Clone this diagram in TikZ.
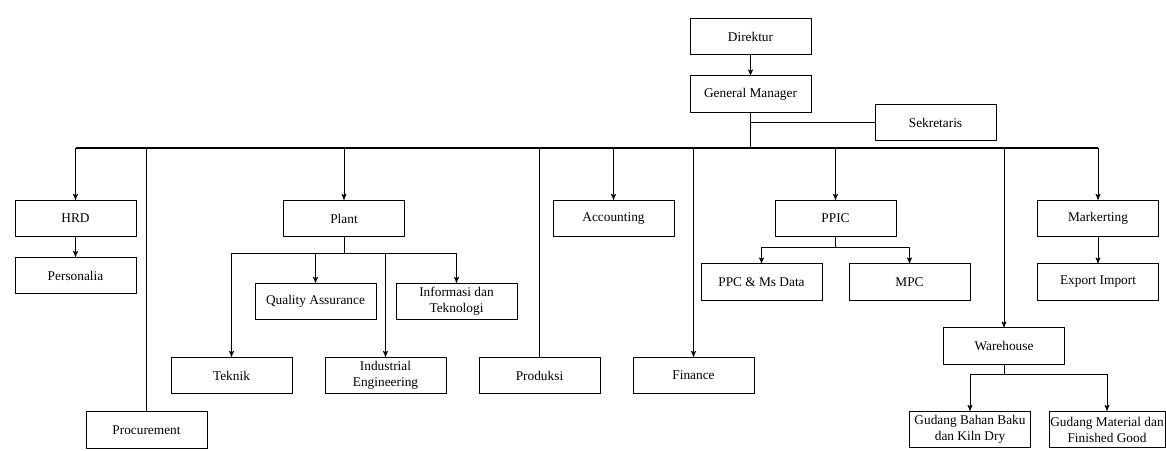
\documentclass[tikz,border=0pt]{standalone}
\usepackage{fontspec}
\setmainfont{Liberation Serif}
\usepackage{tikz}
\usetikzlibrary{arrows}

\begin{document}
\begin{tikzpicture}[x=0.75pt,y=-0.75pt,>=stealth',line width=0.6pt,
    unit/.style={rectangle,draw,minimum width=90.75pt,minimum height=27.5pt,inner sep=1pt,align=center,font=\fontsize{10}{12}\selectfont},
    trunk/.style={line width=1.1pt}]
    \useasboundingbox (0,0) rectangle (1166,450);

    % top
    \node[unit] (dir) at (750.5,36.5) {Direktur};
    \node[unit] (gm) at (750.5,94) {General Manager};
    \node[unit] (sek) at (935.5,122.5) {Sekretaris};

    % divisions
    \node[unit] (hrd) at (75.5,218.5) {HRD};
    \node[unit] (pers) at (75.5,275.5) {Personalia};
    \node[unit] (proc) at (146.5,430) {Procurement};
    \node[unit] (plant) at (344,218.5) {Plant};
    \node[unit] (qa) at (315.5,301.5) {Quality Assurance};
    \node[unit] (it) at (456.5,301.5) {Informasi dan\\Teknologi};
    \node[unit] (tek) at (231.5,375.5) {Teknik};
    \node[unit] (ie) at (385.5,375.5) {Industrial\\Engineering};
    \node[unit] (prod) at (539.5,375.5) {Produksi};
    \node[unit] (acc) at (613.5,218.5) {Accounting};
    \node[unit] (fin) at (693.5,375.5) {Finance};
    \node[unit] (ppic) at (835.5,218.5) {PPIC};
    \node[unit] (ppc) at (761.5,282) {PPC \& Ms Data};
    \node[unit] (mpc) at (909.5,282) {MPC};
    \node[unit] (wh) at (1004,346) {Warehouse};
    \node[unit] (gbb) at (970,429.5) {Gudang Bahan Baku\\dan Kiln Dry};
    \node[unit,minimum width=87pt] (gmf) at (1107,429.5) {Gudang Material dan\\Finished Good};
    \node[unit] (mark) at (1098,218.5) {Markerting};
    \node[unit] (expo) at (1098,282) {Export Import};

    \coordinate (bus) at (750.5,148);
    \coordinate (plantj) at (344,253);
    \coordinate (ppicj) at (835.5,247);
    \coordinate (whj) at (1004,374);

    % main line
    \draw[->] (dir) -- (gm);
    \draw[trunk] (gm) -- (bus);
    \draw (gm |- sek) -- (sek);
    \draw[trunk] (hrd |- bus) -- (mark |- bus);

    \draw[->] (hrd |- bus) -- (hrd);
    \draw[->] (hrd) -- (pers);
    \draw (proc |- bus) -- (proc);
    \draw[->] (plant |- bus) -- (plant);
    \draw (prod |- bus) -- (prod);
    \draw[->] (acc |- bus) -- (acc);
    \draw[->] (fin |- bus) -- (fin);
    \draw[->] (ppic |- bus) -- (ppic);
    \draw[->] (wh |- bus) -- (wh);
    \draw[->] (mark |- bus) -- (mark);
    \draw[->] (mark) -- (expo);

    % plant
    \draw (plant) -- (plantj);
    \draw (tek |- plantj) -- (it |- plantj);
    \draw[->] (tek |- plantj) -- (tek);
    \draw[->] (qa |- plantj) -- (qa);
    \draw[->] (ie |- plantj) -- (ie);
    \draw[->] (it |- plantj) -- (it);

    % ppic
    \draw (ppic) -- (ppicj);
    \draw (ppc |- ppicj) -- (mpc |- ppicj);
    \draw[->] (ppc |- ppicj) -- (ppc);
    \draw[->] (mpc |- ppicj) -- (mpc);

    % warehouse
    \draw (wh) -- (whj);
    \draw (gbb |- whj) -- (gmf |- whj);
    \draw[->] (gbb |- whj) -- (gbb);
    \draw[->] (gmf |- whj) -- (gmf);
\end{tikzpicture}
\end{document}
